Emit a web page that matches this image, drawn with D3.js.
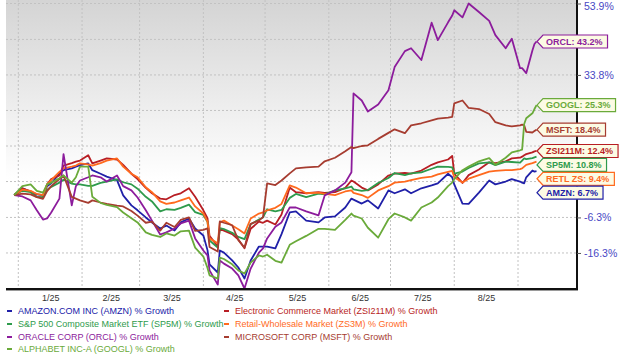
<!DOCTYPE html>
<html><head><meta charset="utf-8">
<script src="https://cdn.jsdelivr.net/npm/d3@7"></script>
<style>html,body{margin:0;padding:0;background:#fff;} svg{display:block;font-family:"Liberation Sans",Arial,sans-serif;}</style>
</head><body><svg id="c" width="620" height="357"></svg>
<script>
const dates = ["2024-12-30",
"2025-01-03","2025-01-07","2025-01-10","2025-01-13","2025-01-15","2025-01-17","2025-01-21","2025-01-23","2025-01-27","2025-01-29","2025-01-31",
"2025-02-04","2025-02-06","2025-02-10","2025-02-13","2025-02-18","2025-02-21","2025-02-25","2025-02-28",
"2025-03-04","2025-03-07","2025-03-11","2025-03-14","2025-03-18","2025-03-21","2025-03-25","2025-03-28",
"2025-04-01","2025-04-03","2025-04-04","2025-04-08","2025-04-09","2025-04-11","2025-04-15","2025-04-18","2025-04-21","2025-04-24","2025-04-28","2025-04-30",
"2025-05-02","2025-05-06","2025-05-09","2025-05-13","2025-05-16","2025-05-21","2025-05-27","2025-05-30",
"2025-06-04","2025-06-09","2025-06-12","2025-06-13","2025-06-17","2025-06-20","2025-06-25","2025-06-30",
"2025-07-03","2025-07-08","2025-07-11","2025-07-16","2025-07-21","2025-07-24","2025-07-29","2025-07-31",
"2025-08-01","2025-08-05","2025-08-08","2025-08-13","2025-08-18","2025-08-21","2025-08-26","2025-08-29",
"2025-09-02","2025-09-03","2025-09-04","2025-09-05","2025-09-08","2025-09-09","2025-09-10"];

const amzn = [0,
1.9,1.0,0.2,0.0,2.5,3.3,6.0,7.0,7.5,8.0,8.4,
8.9,7.0,6.0,5.2,4.2,-0.1,-2.9,-4.3,
-6.3,-7.7,-9.4,-8.6,-10.0,-7.7,-6.6,-9.4,
-11.4,-15.5,-19.5,-21.8,-15.6,-16.2,-18.4,-20.4,-23.5,-18.4,-14.5,-14.5,
-14.5,-15.0,-11.0,-4.9,-4.6,-7.2,-7.7,-6.3,
-6.0,-3.5,-1.0,-1.3,-2.4,-1.5,-3.8,1.3,
0.5,1.6,0.5,1.9,2.7,3.3,6.0,5.0,
3.0,-2.4,-2.5,0.7,4.1,3.0,3.8,4.5,
3.8,3.5,3.3,5.0,6.9,6.6,6.7];

const zsi211m = [0,
1.9,1.0,-0.5,-0.7,3.0,4.5,5.5,8.3,9.0,9.4,9.7,
11.2,8.9,9.7,10.3,10.0,8.5,6.0,4.5,
2.0,0.5,-1.0,-1.2,0.0,0.5,1.9,-0.5,
-4.3,-6.5,-11.5,-14.5,-9.5,-10.0,-11.0,-12.5,-15.0,-9.5,-7.5,-7.8,
-7.2,-8.3,-5.5,2.1,0.8,0.5,0.8,0.6,
0.8,2.0,4.1,3.8,2.1,1.3,3.0,5.5,
6.0,6.2,6.0,6.9,8.5,9.2,10.0,11.0,
6.0,3.4,5.6,7.2,9.2,9.0,9.5,10.3,
10.5,10.8,11.2,11.5,12.0,12.3,12.4];

const sp5m = [0,
1.2,0.8,-0.6,-0.5,1.5,2.3,3.5,4.3,3.2,3.0,3.0,
2.6,2.6,3.4,3.8,4.4,3.6,3.0,1.8,
-0.5,-1.8,-4.6,-4.0,-4.2,-3.6,-2.7,-4.8,
-5.6,-7.5,-12.8,-14.8,-9.3,-9.6,-10.6,-11.8,-12.4,-8.2,-6.9,-6.3,
-4.0,-4.6,-4.2,-0.8,0.3,-0.6,0.4,0.2,
1.3,1.9,2.4,1.6,1.2,1.4,3.4,4.8,
6.2,5.6,6.1,6.4,7.4,8.0,7.9,7.8,
6.0,6.6,7.6,8.9,9.2,8.4,9.4,9.3,
9.1,9.7,10.3,10.1,10.4,10.6,10.8];

const zs3m = [0,
1.5,1.2,0.3,0.0,3.0,4.2,6.5,7.5,8.0,8.3,8.9,
8.6,8.3,9.0,9.7,10.3,8.0,6.0,5.0,
2.2,0.8,-1.8,-2.5,-2.1,-1.5,-0.7,-3.2,
-5.2,-7.5,-12.2,-13.6,-7.7,-7.2,-8.6,-9.6,-10.8,-6.6,-5.2,-4.9,
-4.3,-3.6,-2.5,2.7,2.1,0.5,0.7,0.3,
0.0,1.0,1.3,0.6,0.0,-0.8,1.3,2.5,
3.5,3.8,4.2,4.8,5.2,5.8,6.5,6.8,
5.0,3.5,4.6,5.6,6.6,6.8,7.0,7.0,
7.3,7.5,8.0,8.5,9.0,9.2,9.4];

const orcl = [0,
-0.4,-1.5,-4.3,-6.9,-6.6,-4.9,-1.0,11.5,-2.9,2.5,4.1,
5.0,5.5,5.0,3.8,5.5,2.5,1.3,-0.7,
-4.3,-7.2,-11.1,-10.5,-9.4,-8.0,-7.2,-12.2,
-15.6,-17.0,-21.2,-25.2,-18.4,-19.3,-20.7,-22.6,-26.3,-20.7,-16.2,-15.0,
-12.2,-8.9,-7.7,-3.5,-3.5,-4.6,-5.7,-0.1,
1.3,3.5,6.4,28.6,26.6,23.5,25.5,29.5,
36.0,40.5,41.3,38.0,48.5,43.6,48.6,50.5,
52.0,50.0,53.9,51.5,49.0,45.0,41.3,44.0,
35.7,35.7,35.0,34.3,40.7,42.5,43.2];

const msft = [0,
0.4,0.2,-0.6,-1.1,1.1,2.5,4.5,5.5,-0.5,-1.0,-1.5,
-2.2,-1.5,-2.1,-2.5,-3.0,-3.2,-4.5,-5.8,
-7.8,-7.5,-10.0,-7.8,-9.0,-7.0,-6.3,-10.1,
-9.8,-9.4,-14.6,-15.9,-7.4,-7.8,-8.5,-12.7,-14.8,-8.1,-7.2,-6.2,
3.3,2.8,4.1,6.1,7.5,7.8,8.0,9.5,
10.5,12.3,13.5,13.2,13.8,14.0,15.8,17.5,
18.5,17.4,19.6,20.2,21.0,21.5,21.8,22.0,
25.8,26.6,24.5,24.2,22.8,20.5,19.6,19.3,
19.6,19.8,19.6,17.8,17.6,18.0,18.4];

const googl = [0,
2.5,3.0,1.2,0.7,3.0,3.5,4.7,5.5,3.5,5.0,8.0,
8.0,-0.5,-2.2,-2.8,-3.4,-4.9,-6.5,-7.7,
-10.5,-11.2,-11.8,-10.8,-11.4,-10.2,-10.0,-14.8,
-17.3,-20.5,-22.6,-23.5,-17.6,-18.0,-19.5,-21.2,-22.1,-19.0,-17.0,-17.3,
-16.8,-18.5,-19.0,-14.0,-13.0,-11.5,-9.5,-9.5,
-9.8,-7.0,-5.2,-5.8,-6.6,-9.2,-12.0,-6.8,
-5.2,-6.3,-7.2,-3.5,-2.1,-0.7,2.5,3.5,
4.5,7.0,8.0,9.5,10.4,8.5,10.5,12.0,
12.6,12.8,20.0,21.6,23.0,24.2,25.3];

const seriesNames = ["AMAZON.COM INC (AMZN) % Growth","Electronic Commerce Market (ZSI211M) % Growth",
  "S&P 500 Composite Market ETF (SP5M) % Growth","Retail-Wholesale Market (ZS3M) % Growth",
  "ORACLE CORP (ORCL) % Growth","MICROSOFT CORP (MSFT) % Growth","ALPHABET INC-A (GOOGL) % Growth"];
const tagNames = ["AMZN","ZSI211M","SP5M","RETL ZS","ORCL","MSFT","GOOGL"];
const yTickValues = [-16.3,-6.3,3.8,13.8,23.8,33.8,43.8,53.9];
const monthLabels = ["1/25","2/25","3/25","4/25","5/25","6/25","7/25","8/25"];

const colors = ["#2020a8","#b81e24","#2e9b4c","#ff6a1e","#8c1c9c","#a63c30","#6aaa3a"];
const valuesList = [amzn, zsi211m, sp5m, zs3m, orcl, msft, googl];

const parse = d3.timeParse("%Y-%m-%d");
const dts = dates.map(parse);
const series = valuesList.map((vals,i)=>({
  name: seriesNames[i], tag: tagNames[i], color: colors[i],
  pts: vals.map((v,j)=>({date: dts[j], v}))
}));

const svg = d3.select("#c");
const P = {left:6, right:577, top:0, bottom:289};
const x = d3.scaleTime().domain([new Date(2025,0,1), new Date(2025,8,1)]).range([18.3,518]);
const y = d3.scaleLinear().domain([-26.3,53.9]).range([288.5,3.5]);

const defs = svg.append("defs");
const grad = defs.append("linearGradient").attr("id","bg").attr("x1",0).attr("y1",0).attr("x2",0).attr("y2",1);
grad.append("stop").attr("offset","0%").attr("stop-color","#d4d4d4");
grad.append("stop").attr("offset","62%").attr("stop-color","#ffffff");
grad.append("stop").attr("offset","100%").attr("stop-color","#ffffff");
defs.append("clipPath").attr("id","clip").append("rect")
  .attr("x",P.left).attr("y",P.top).attr("width",P.right-P.left).attr("height",P.bottom-P.top);

svg.append("rect").attr("x",P.left).attr("y",P.top).attr("width",P.right-P.left).attr("height",P.bottom-P.top)
  .attr("fill","url(#bg)");

// grid
const grid = svg.append("g");
grid.selectAll("line.h").data(yTickValues).join("line")
  .attr("x1",P.left).attr("x2",P.right).attr("y1",d=>y(d)).attr("y2",d=>y(d))
  .attr("stroke","#c2c2c2").attr("stroke-width",1).attr("stroke-dasharray","2,2");
const months = d3.timeMonth.range(new Date(2025,0,1), new Date(2025,8,2));
grid.selectAll("line.v").data(months).join("line")
  .attr("x1",d=>x(d)).attr("x2",d=>x(d)).attr("y1",P.top).attr("y2",P.bottom)
  .attr("stroke","#c2c2c2").attr("stroke-width",1).attr("stroke-dasharray","2,2");

// lines
const line = d3.line().x(d=>x(d.date)).y(d=>y(d.v));
svg.append("g").attr("clip-path","url(#clip)").selectAll("path").data(series).join("path")
  .attr("d",d=>line(d.pts)).attr("fill","none").attr("stroke",d=>d.color)
  .attr("stroke-width",1.8).attr("stroke-linejoin","round");

// axes lines
svg.append("line").attr("x1",P.left).attr("x2",P.right+1).attr("y1",P.bottom+1.5).attr("y2",P.bottom+1.5)
  .attr("stroke","#9a9a9a").attr("stroke-width",1);
svg.append("line").attr("x1",P.left).attr("x2",P.right+1).attr("y1",P.bottom).attr("y2",P.bottom)
  .attr("stroke","#111").attr("stroke-width",2);
svg.append("line").attr("x1",P.right).attr("x2",P.right).attr("y1",P.top).attr("y2",P.bottom+1)
  .attr("stroke","#111").attr("stroke-width",2);

// tag positions (computed first, so covered tick labels can be left out)
const last = series.map(s=>({s, yv: y(s.pts[s.pts.length-1].v), val: s.pts[s.pts.length-1].v}));
const order = last.slice().sort((a,b)=>a.yv-b.yv);
let prev = -Infinity;
order.forEach(t=>{ t.cy = Math.max(t.yv, prev + 13.9); prev = t.cy; });
const covered = v => order.some(t=>Math.abs(y(v)-t.cy) < 5.5);

// right axis
const ya = svg.append("g").attr("transform",`translate(${P.right},0)`)
  .call(d3.axisRight(y).tickValues(yTickValues).tickSize(4).tickPadding(3)
    .tickFormat(d=>covered(d) ? "" : d.toFixed(1)+"%"));
ya.select(".domain").remove();
ya.selectAll(".tick line").attr("stroke","#555");
ya.selectAll(".tick text").attr("fill","#4848c4").style("font-size","10.5px").style("font-family",'"Liberation Sans",Arial,sans-serif')
  .attr("dy",d=>d===53.9 ? "0.55em" : "0.32em");

// x axis labels at month middles
const mids = months.slice(0,8).map((m,i)=>new Date((m.getTime()+months[i+1].getTime())/2));
const xa = svg.append("g").attr("transform",`translate(0,${P.bottom})`)
  .call(d3.axisBottom(x).tickValues(mids).tickSize(0).tickPadding(6).tickFormat((d,i)=>monthLabels[i]));
xa.select(".domain").remove();
xa.selectAll(".tick text").attr("fill","#333").style("font-size","9px").style("font-family",'"Liberation Sans",Arial,sans-serif');

// tags
const tipX = x(dts[dts.length-1]) + 0.5;
const tg = svg.append("g");
order.forEach(t=>{
  const g = tg.append("g");
  const path = g.append("path");
  const txt = g.append("text").attr("x",tipX+9).attr("y",t.cy).attr("dy","0.35em")
    .attr("fill",t.s.color).style("font-size","9px").style("font-weight","bold")
    .text(`${t.s.tag}: ${t.val.toFixed(1)}%`);
  const w = txt.node().getComputedTextLength();
  const h = 13, bx = tipX+6, bw = w+8;
  path.attr("d",`M${tipX},${t.cy} L${bx},${t.cy-h/2} L${bx+bw},${t.cy-h/2} L${bx+bw},${t.cy+h/2} L${bx},${t.cy+h/2} Z`)
    .attr("fill","#fcfbe4").attr("stroke",t.s.color).attr("stroke-width",1.2);
});

// legend
const legPos = [[0,0],[1,0],[0,1],[1,1],[0,2],[1,2],[0,3]];
const colX = [7,224], rowY = [311,324,337,349];
const lg = svg.append("g");
series.forEach((s,i)=>{
  const [c,r] = legPos[i];
  lg.append("line").attr("x1",colX[c]).attr("x2",colX[c]+5).attr("y1",rowY[r]).attr("y2",rowY[r])
    .attr("stroke",s.color).attr("stroke-width",2);
  lg.append("text").attr("x",colX[c]+11).attr("y",rowY[r]).attr("dy","0.35em")
    .attr("fill",s.color).style("font-size","9px").text(s.name);
});
</script></body></html>
